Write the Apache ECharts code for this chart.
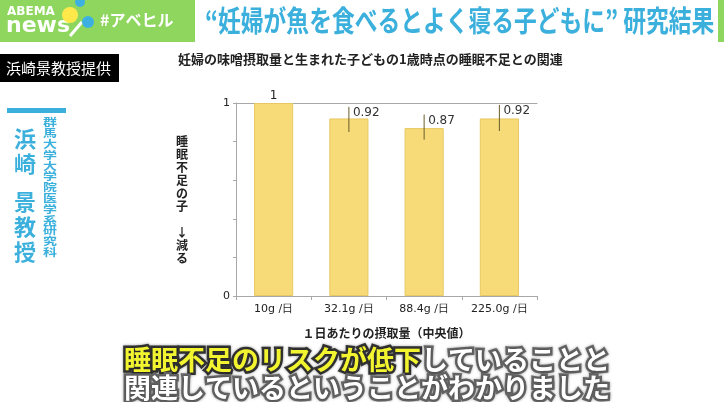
<!DOCTYPE html>
<html>
<head>
<meta charset="utf-8">
<script src="https://cdn.jsdelivr.net/npm/echarts@6/dist/echarts.min.js"></script>
<style>
  html, body { margin: 0; padding: 0; background: #fff; }
  #chart { width: 724px; height: 402px; }
</style>
</head>
<body>
<div id="chart"></div>
<script>
// 1日あたりの摂取量（中央値）
const categories = ['10g /日', '32.1g /日', '88.4g /日', '225.0g /日'];
// 睡眠不足のオッズ比
const ratios = [1, 0.92, 0.87, 0.92];
// 信頼区間 (最初の群は基準なので無し)
const ciLower = [null, 0.85, 0.81, 0.855];
const ciUpper = [null, 0.98, 0.94, 0.99];
const yTicks = [0, 1];

const JP = '"Noto Sans CJK JP", "Noto Sans", sans-serif';
const BLUE = '#3cb0dc';

const chart = echarts.init(document.getElementById('chart'));

const errData = [];
ratios.forEach((v, i) => {
  if (ciLower[i] != null) errData.push([i, ciLower[i], ciUpper[i], v]);
});

// 字幕: 縁取りを下に敷いてから本体を重ねる
const captionText = '{y|睡眠不足のリスクが低下}{w|していることと}\n{w|関連しているということがわかりました}';
function caption(outline) {
  const base = { fontSize: 27, fontWeight: 'bold', fontFamily: JP, lineHeight: 28 };
  const rich = outline
    ? {
        y: Object.assign({ fill: '#333', stroke: '#333', lineWidth: 5 }, base),
        w: Object.assign({ fill: '#666', stroke: '#666', lineWidth: 5 }, base)
      }
    : {
        y: Object.assign({ fill: '#f2f430' }, base),
        w: Object.assign({ fill: '#fff' }, base)
      };
  return {
    type: 'text', x: 124, y: 346,
    style: Object.assign({ text: captionText, rich: rich }, base,
      outline ? { textShadowColor: 'rgba(0,0,0,0.4)', textShadowBlur: 3 } : {})
  };
}

chart.setOption({
  backgroundColor: '#fff',
  animation: false,
  title: {
    text: '妊婦の味噌摂取量と生まれた子どもの1歳時点の睡眠不足との関連',
    left: 173,
    top: 48,
    textStyle: { fontFamily: JP, fontSize: 13, fontWeight: 'bold', color: '#222' }
  },
  grid: { left: 236, right: 187, top: 103, bottom: 106 },
  xAxis: [{
    type: 'category',
    data: categories,
    position: 'bottom',
    axisLine: { lineStyle: { color: '#a8a8a8' } },
    axisTick: { show: true, alignWithLabel: false, length: 4, lineStyle: { color: '#a8a8a8' } },
    axisLabel: { color: '#222', fontSize: 11, fontFamily: 'DejaVu Sans', margin: 8 },
    name: '１日あたりの摂取量（中央値）',
    nameLocation: 'middle',
    nameGap: 31,
    nameTextStyle: { fontFamily: JP, fontSize: 12, fontWeight: 'bold', color: '#222' }
  }, {
    type: 'category',
    data: categories,
    position: 'top',
    axisLine: { show: true, lineStyle: { color: '#a8a8a8' } },
    axisTick: { show: false },
    axisLabel: { show: false }
  }],
  yAxis: {
    type: 'value',
    min: 0,
    max: 1,
    interval: 0.2,
    axisLine: { show: true, lineStyle: { color: '#a8a8a8' } },
    axisTick: { show: true, length: 3, lineStyle: { color: '#a8a8a8' } },
    axisLabel: {
      color: '#222', fontSize: 11, fontFamily: 'DejaVu Sans', margin: 6,
      formatter: v => (yTicks.includes(v) ? String(v) : '')
    },
    splitLine: { show: false },
    name: '睡\n眠\n不\n足\nの\n子\n\n↓\n減\nる',
    nameLocation: 'middle',
    nameGap: 48,
    nameRotate: 0,
    nameTextStyle: { fontFamily: JP, fontSize: 12, fontWeight: 'bold', color: '#222', lineHeight: 13 }
  },
  series: [{
    type: 'bar',
    barWidth: '52%',
    itemStyle: { color: '#f6db78', borderColor: '#e8c862', borderWidth: 1 },
    data: ratios.map((v, i) => ({
      value: v,
      label: {
        show: ciLower[i] == null,
        position: 'top',
        distance: 1,
        color: '#222',
        fontSize: 12,
        fontFamily: 'DejaVu Sans'
      }
    }))
  }, {
    type: 'custom',
    data: errData,
    encode: { x: 0, y: [1, 2] },
    z: 5,
    renderItem: (params, api) => {
      const lo = api.coord([api.value(0), api.value(1)]);
      const hi = api.coord([api.value(0), api.value(2)]);
      return {
        type: 'group',
        children: [{
          type: 'line',
          shape: { x1: hi[0], y1: hi[1], x2: lo[0], y2: lo[1] },
          style: { stroke: '#6b5d2a', lineWidth: 1 }
        }, {
          type: 'text',
          x: hi[0] + 4,
          y: hi[1] + 6,
          style: {
            text: String(api.value(3)),
            fill: '#333',
            fontSize: 12,
            fontFamily: 'DejaVu Sans',
            verticalAlign: 'middle',
            align: 'left'
          }
        }]
      };
    }
  }],
  graphic: [
    // 上部バナー
    { type: 'rect', shape: { x: 0, y: 0, width: 195, height: 42 }, style: { fill: '#8fd65f' } },
    { type: 'rect', shape: { x: 718, y: 0, width: 6, height: 42 }, style: { fill: '#8fd65f' } },
    { type: 'text', x: 7, y: 6, style: { text: 'ABEMA', fill: '#fff', fontSize: 12, fontFamily: 'DejaVu Sans', fontWeight: 'bold' } },
    { type: 'text', x: 6, y: 15, style: { text: 'news', fill: '#fff', fontSize: 22, fontFamily: 'DejaVu Sans', fontWeight: 'bold' } },
    { type: 'line', shape: { x1: 70, y1: 36, x2: 82, y2: 22 }, style: { stroke: '#fff', lineWidth: 3 } },
    { type: 'circle', shape: { cx: 70, cy: 15, r: 8 }, style: { fill: '#ffe94a' } },
    { type: 'circle', shape: { cx: 80, cy: 2, r: 5 }, style: { fill: '#3cb0e0' } },
    { type: 'circle', shape: { cx: 88, cy: 22, r: 6 }, style: { fill: '#3cb0e0' } },
    { type: 'text', x: 100, y: 20, style: { text: '#アベヒル', fill: '#fff', fontSize: 16, fontFamily: JP, fontWeight: 'bold', verticalAlign: 'middle' } },
    { type: 'text', x: 205, y: 21, scaleX: 0.785, style: { text: '“妊婦が魚を食べるとよく寝る子どもに” 研究結果', fill: BLUE, fontSize: 29, fontFamily: JP, fontWeight: 'bold', verticalAlign: 'middle' } },
    // 左側
    { type: 'rect', shape: { x: 0, y: 54, width: 119, height: 28 }, style: { fill: '#000' } },
    { type: 'text', x: 6, y: 68, style: { text: '浜崎景教授提供', fill: '#fff', fontSize: 15, fontFamily: JP, verticalAlign: 'middle' } },
    { type: 'rect', shape: { x: 7, y: 108, width: 59, height: 5 }, style: { fill: BLUE } },
    { type: 'text', x: 25, y: 126, style: { text: '浜\n崎', fill: BLUE, fontSize: 22, lineHeight: 25, fontFamily: JP, fontWeight: 'bold', align: 'center' } },
    { type: 'text', x: 25, y: 189, style: { text: '景\n教\n授', fill: BLUE, fontSize: 22, lineHeight: 25, fontFamily: JP, fontWeight: 'bold', align: 'center' } },
    { type: 'text', x: 50, y: 117, scaleY: 0.77, style: { text: '群馬大学大学院医学系研究科'.split('').join('\n'), fill: BLUE, fontSize: 14, lineHeight: 14, fontFamily: JP, fontWeight: 'bold', align: 'center' } },
    // 字幕
    caption(true),
    caption(false)
  ]
});
</script>
</body>
</html>
